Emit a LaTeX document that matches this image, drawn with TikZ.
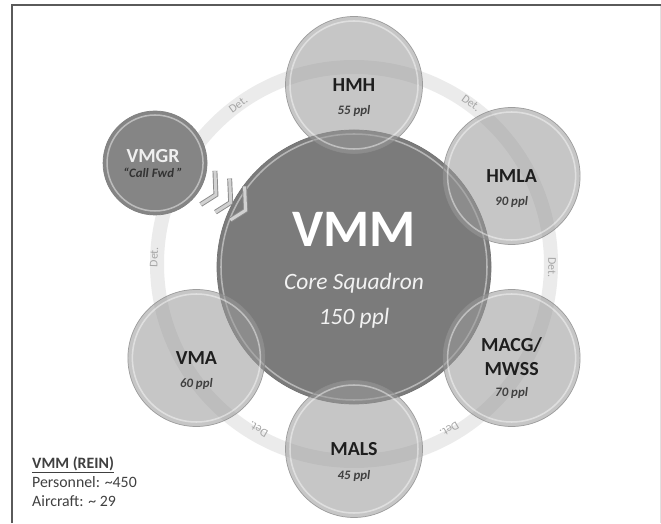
\documentclass[tikz,border=0pt]{standalone}
\usepackage{fontspec}
\setmainfont{Carlito}
\usetikzlibrary{calc,positioning}
\definecolor{corefill}{HTML}{7B7B7B}
\definecolor{satfill}{HTML}{9A9A9A}
\definecolor{relayfill}{HTML}{858585}
\definecolor{ringgray}{HTML}{EBEBEB}
\definecolor{framegray}{HTML}{5A5A5A}
\definecolor{txtdark}{HTML}{1E1E1E}
\definecolor{legendtxt}{HTML}{404040}

\begin{document}
\begin{tikzpicture}[x=0.03cm, y=0.03cm,
              core/.style={circle, inner sep=0pt, minimum size=8.22cm, fill=corefill, draw=black!55, line width=0.6pt},
              sat/.style={circle, inner sep=0pt, minimum size=4.11cm, fill=satfill, fill opacity=0.56, draw=black!45, draw opacity=0.8, line width=0.6pt},
              relay/.style={circle, inner sep=0pt, minimum size=3.12cm, fill=relayfill, draw=black!50, line width=0.6pt},
              rim/.style={white, line width=1.3pt, opacity=0.45},
              unit/.style={font=\fontsize{17}{19}\selectfont\bfseries, text=txtdark, inner sep=0pt},
              ppl/.style={font=\fontsize{11}{13}\selectfont\bfseries\itshape, text=txtdark!85, inner sep=0pt},
              det/.style={font=\fontsize{10}{12}\selectfont, text=black!35, inner sep=0pt},
              chevron/.style={draw=black!45, double=black!18, double distance=2.6pt, line width=0.8pt, line join=miter},
              legend/.style={font=\fontsize{13.5}{16}\selectfont, text=legendtxt, inner sep=0pt, anchor=base west},
             ]
\useasboundingbox (0,0) rectangle (661,523);
\draw[framegray, line width=1.6pt] (12,0) -- (12,518) -- (661,518);
\draw[black!12, line width=0.8pt] (660,0) -- (660,517);

% ring of detachments
\coordinate (ringc) at (354,259);
\draw[ringgray, line width=0.42cm] (ringc) circle (197);
\foreach \a/\r in {126/197, 54/199, -1/198, -60/191, -120/191, 178/200}
  \node[det, rotate=\a-90] at ($(ringc)+(\a:\r)$) {Det.};

\node[core] (vmm) at (354,256) {};
\node[relay] (vmgr) at ($(vmm)+(152.4:224.5)$) {};
\draw[rim] (vmm.center) circle (133);
\draw[rim] (vmgr.center) circle (48);

\foreach \f in {0.306,0.38,0.455} {
  \coordinate (tip) at ($(vmgr)!\f!(vmm)$);
  \draw[chevron] ($(tip)+(92.4:24)$) -- (tip) -- ($(tip)+(212.4:18)$);
}

\foreach \nm/\ang in {hmh/90, hmla/30, macg/-30, mals/-90, vma/-150} {
  \node[sat] (\nm) at ($(vmm)+(\ang:182)$) {};
  \draw[rim] (\nm.center) circle (64);
}

\node[anchor=base, font=\fontsize{45}{50}\selectfont\bfseries, text=white, inner sep=0pt] (vmm-t) at ($(vmm)+(0,20)$) {VMM};
\node[anchor=base, font=\fontsize{20}{24}\selectfont\itshape, text=white!95!black, inner sep=0pt] (vmm-s) at ($(vmm)+(0,-23)$) {Core Squadron};
\node[anchor=base, font=\fontsize{20}{24}\selectfont\itshape, text=white!95!black, inner sep=0pt] (vmm-p) at ($(vmm)+(0,-58)$) {150 ppl};

\foreach \nm/\title/\num in {hmh/HMH/55, hmla/HMLA/90, mals/MALS/45, vma/VMA/60} {
  \node[unit, anchor=base] (\nm-t) at ($(\nm)+(0,-7)$) {\title};
  \node[ppl, anchor=base] (\nm-p) at ($(\nm-t.base)+(0,-23)$) {\num\ ppl};
}
\node[unit, anchor=base] (macg-t) at ($(macg)+(0,6)$) {MACG/};
\node[unit, anchor=base] (macg-u) at ($(macg)+(0,-18)$) {MWSS};
\node[ppl, anchor=base] (macg-p) at ($(macg)+(0,-39)$) {70 ppl};

\node[unit, anchor=base, text=white!94!black] (vmgr-t) at ($(vmgr)+(-2,0)$) {VMGR};
\node[ppl, anchor=base, text=black!80] (vmgr-p) at ($(vmgr)+(-2,-15)$) {“Call Fwd ”};

\node[legend, font=\fontsize{13.5}{16}\selectfont\bfseries] (lg-h) at (32,55) {\underline{VMM (REIN)}};
\node[legend] (lg-p) at (32,35) {Personnel: \textasciitilde450};
\node[legend] (lg-a) at (32,16) {Aircraft: \textasciitilde{} 29};
\end{tikzpicture}
\end{document}
